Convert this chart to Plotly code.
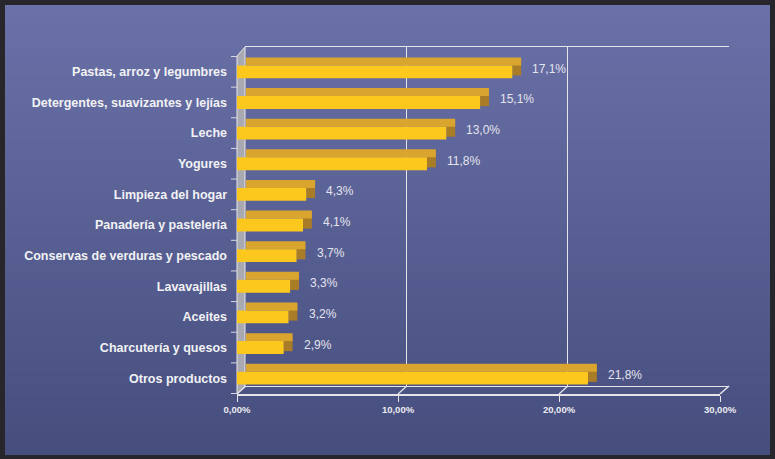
import base64
import struct
import zlib
import plotly.graph_objects as go

# ---------------- data ----------------
categories = [
    "Pastas, arroz y legumbres",
    "Detergentes, suavizantes y lejías",
    "Leche",
    "Yogures",
    "Limpieza del hogar",
    "Panadería y pastelería",
    "Conservas de verduras y pescado",
    "Lavavajillas",
    "Aceites",
    "Charcutería y quesos",
    "Otros productos",
]
values = [17.1, 15.1, 13.0, 11.8, 4.3, 4.1, 3.7, 3.3, 3.2, 2.9, 21.8]
value_labels = ["17,1%", "15,1%", "13,0%", "11,8%", "4,3%", "4,1%",
                "3,7%", "3,3%", "3,2%", "2,9%", "21,8%"]
tick_values = [0, 10, 20, 30]
tick_labels = ["0,00%", "10,00%", "20,00%", "30,00%"]

# ---------------- geometry / style ----------------
W, H = 775, 459
ML, MR, MT, MB = 237, 46, 47, 65
PW, PH = W - ML - MR, H - MT - MB
DEPTH = 0.55          # 3D depth of bars in axis units


def px(x):
    return (x - ML) / PW


def py(y):
    return (H - MB - y) / PH


def gradient_png(top, bottom, h=256):
    rows = b""
    for i in range(h):
        t = i / (h - 1)
        c = bytes(int(round(top[k] + (bottom[k] - top[k]) * t)) for k in range(3))
        rows += b"\x00" + c

    def chunk(tag, data):
        return (struct.pack(">I", len(data)) + tag + data
                + struct.pack(">I", zlib.crc32(tag + data) & 0xFFFFFFFF))

    png = (b"\x89PNG\r\n\x1a\n"
           + chunk(b"IHDR", struct.pack(">IIBBBBB", 1, h, 8, 2, 0, 0, 0))
           + chunk(b"IDAT", zlib.compress(rows))
           + chunk(b"IEND", b""))
    return "data:image/png;base64," + base64.b64encode(png).decode()


FONT = "Liberation Sans"
n = len(values)

fig = go.Figure()
# dummy trace for back-wall subplot
fig.add_trace(go.Scatter(x=[None], y=[None], xaxis="x", yaxis="y",
                         showlegend=False, hoverinfo="skip"))
# side face
fig.add_trace(go.Bar(y=categories, x=[DEPTH] * n, base=values, orientation="h",
                     offset=-0.40, width=0.52, marker=dict(color="#a97c27", line_width=0),
                     xaxis="x2", yaxis="y2", showlegend=False, hoverinfo="skip"))
# top face
fig.add_trace(go.Bar(y=categories, x=values, base=[DEPTH] * n, orientation="h",
                     offset=-0.47, width=0.26, marker=dict(color="#d9a52e", line_width=0),
                     xaxis="x2", yaxis="y2", showlegend=False, hoverinfo="skip"))
# front face
fig.add_trace(go.Bar(y=categories, x=values, orientation="h",
                     offset=-0.21, width=0.42, marker=dict(color="#fcc81e", line_width=0),
                     xaxis="x2", yaxis="y2", showlegend=False, hoverinfo="skip"))

annotations = []
for v, c, t in zip(values, categories, value_labels):
    annotations.append(dict(x=v, y=c, xref="x2", yref="y2", text=t, showarrow=False,
                            xanchor="left", yanchor="middle", xshift=18, yshift=3,
                            font=dict(family=FONT, size=12, color="#e4e4ee")))

line_col = "#e6e6ea"
shapes = [
    # left wall
    dict(type="path", xref="paper", yref="paper", layer="below",
         path=f"M {px(237)},{py(394)} L {px(237)},{py(56)} L {px(245)},{py(47)} L {px(245)},{py(386)} Z",
         fillcolor="#a9a9b2", line=dict(color=line_col, width=1)),
    # floor diagonal at the right end
    dict(type="line", xref="paper", yref="paper", x0=px(720), y0=py(394), x1=px(729), y1=py(386),
         line=dict(color=line_col, width=1.5)),
]
for tv in tick_values[:-1]:
    shapes.append(dict(type="line", xref="x2", yref="paper", x0=tv, x1=tv + DEPTH,
                       y0=py(394), y1=py(386), line=dict(color=line_col, width=1.2)))
# category boundary tick marks on the y axis
for i in range(n + 1):
    shapes.append(dict(type="line", xref="paper", yref="y2", x0=px(231), x1=px(237),
                       y0=i - 0.5, y1=i - 0.5, line=dict(color="#d8d8dc", width=1)))

fig.update_layout(
    width=W, height=H, autosize=False,
    margin=dict(l=ML, r=MR, t=MT, b=MB),
    paper_bgcolor="#27272b",
    plot_bgcolor="rgba(0,0,0,0)",
    barmode="overlay",
    showlegend=False,
    images=[dict(source=gradient_png((106, 113, 168), (70, 78, 126)),
                 xref="paper", yref="paper", x=px(5), y=py(5),
                 sizex=765 / PW, sizey=450 / PH, sizing="stretch",
                 xanchor="left", yanchor="top", layer="below")],
    # back wall grid
    xaxis=dict(domain=[px(245), 1], range=[0, 30], anchor="y", tickvals=tick_values,
               showticklabels=False, ticks="", showgrid=True, gridcolor=line_col,
               gridwidth=1.2, zeroline=False, showline=True, mirror=True,
               linecolor=line_col, linewidth=1.2, fixedrange=True),
    yaxis=dict(domain=[py(386), 1], range=[0, 1], anchor="x", visible=False,
               fixedrange=True),
    # bars / front axis
    xaxis2=dict(domain=[0, px(720)], range=[0, 30], anchor="y2", tickvals=tick_values,
                ticktext=tick_labels, showgrid=False, zeroline=False,
                showline=True, linecolor=line_col, linewidth=1.5,
                ticks="outside", ticklen=6, tickcolor=line_col,
                tickfont=dict(family=FONT, size=9.5, color="#ececf0", weight="bold"),
                fixedrange=True),
    yaxis2=dict(domain=[0, py(56)], anchor="x2", type="category",
                categoryorder="array", categoryarray=categories, autorange="reversed",
                ticks="", ticklabelstandoff=9,
                showgrid=False, zeroline=False, showline=False,
                tickfont=dict(family=FONT, size=12.5, color="#f2f2f4", weight="bold"),
                automargin=False, fixedrange=True),
    annotations=annotations,
    shapes=shapes,
)

fig.write_html("out.html")
